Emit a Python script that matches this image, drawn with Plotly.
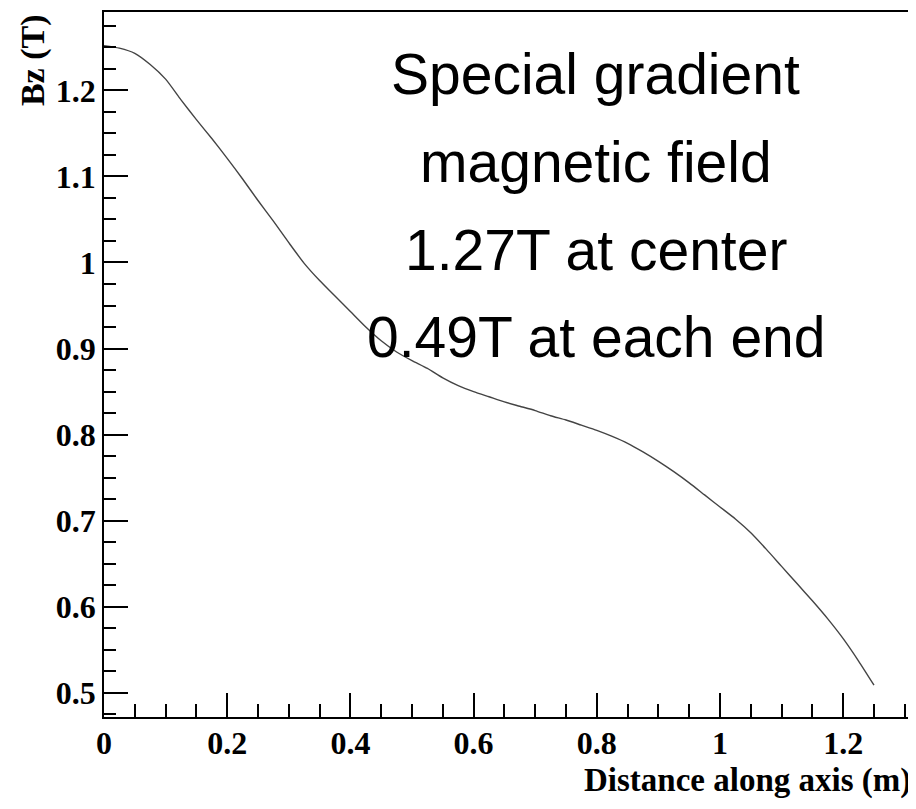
import plotly.graph_objects as go

# Data
distance_m = [0.0, 0.025, 0.05, 0.075, 0.10, 0.125, 0.15, 0.175, 0.20, 0.225, 0.25, 0.275,
              0.30, 0.325, 0.35, 0.375, 0.40, 0.425, 0.45, 0.475, 0.50, 0.525, 0.55, 0.575,
              0.60, 0.625, 0.65, 0.675, 0.70, 0.725, 0.75, 0.775, 0.80, 0.825, 0.85, 0.875,
              0.90, 0.925, 0.95, 0.975, 1.00, 1.025, 1.05, 1.075, 1.10, 1.125, 1.15, 1.175,
              1.20, 1.225, 1.25]
bz_tesla = [1.252, 1.249, 1.243, 1.230, 1.213, 1.189, 1.166, 1.144, 1.121, 1.097, 1.072, 1.048,
            1.023, 0.999, 0.979, 0.961, 0.943, 0.925, 0.909, 0.896, 0.886, 0.877, 0.866, 0.857,
            0.850, 0.844, 0.838, 0.833, 0.828, 0.822, 0.817, 0.811, 0.805, 0.798, 0.790, 0.780,
            0.769, 0.757, 0.744, 0.730, 0.716, 0.702, 0.686, 0.667, 0.647, 0.627, 0.607, 0.586,
            0.563, 0.537, 0.509]
x_tick_vals = [0, 0.2, 0.4, 0.6, 0.8, 1.0, 1.2]
x_tick_text = ["0", "0.2", "0.4", "0.6", "0.8", "1", "1.2"]
y_tick_vals = [0.5, 0.6, 0.7, 0.8, 0.9, 1.0, 1.1, 1.2]
y_tick_text = ["0.5", "0.6", "0.7", "0.8", "0.9", "1", "1.1", "1.2"]
note_lines = ["Special gradient", "magnetic field", "1.27T at center", "0.49T at each end"]

# page has an 8px body margin; figure sits at (8, 8)
OFF = 8
W, H = 908, 793
PL, PR, PT, PB = 104, 914, 11, 717          # plot area in page pixels
ML, MR, MT, MB = PL - OFF, (OFF + W) - PR, PT - OFF, (OFF + H) - PB

def px_x(px):
    return (px - PL) / (PR - PL)

def px_y(py):
    return (PB - py) / (PB - PT)

fig = go.Figure()
fig.add_trace(go.Scatter(x=distance_m, y=bz_tesla, mode="lines",
                         line=dict(color="#444444", width=1.4, shape="spline", smoothing=0.6),
                         hoverinfo="skip", showlegend=False))

serif_bold = "Liberation Serif"
axis_common = dict(showline=True, linecolor="black", linewidth=1.5, mirror=True,
                   ticks="inside", tickcolor="black", tickwidth=1.5, ticklen=24,
                   showgrid=False, zeroline=False,
                   tickfont=dict(family=serif_bold, size=32, color="black", weight="bold"))

fig.update_xaxes(range=[0, 1.3117], tickvals=x_tick_vals, ticktext=x_tick_text,
                 ticklabelstandoff=-3,
                 minor=dict(dtick=0.05, tick0=0, ticks="inside", ticklen=13,
                            tickcolor="black", tickwidth=1.5, showgrid=False),
                 **axis_common)
fig.update_yaxes(range=[0.472, 1.291], tickvals=y_tick_vals, ticktext=y_tick_text,
                 minor=dict(dtick=0.025, tick0=0, ticks="inside", ticklen=12,
                            tickcolor="black", tickwidth=1.5, showgrid=False),
                 **axis_common)

annotations = []
mid_px = [73, 161, 249, 336]
for line, my in zip(note_lines, mid_px):
    annotations.append(dict(text=line, xref="paper", yref="paper",
                            x=px_x(597), y=px_y(my), xanchor="center", yanchor="middle",
                            showarrow=False,
                            font=dict(family="Liberation Sans", size=57, color="black")))
annotations.append(dict(text="<b>Bz (T)</b>", xref="paper", yref="paper",
                        x=px_x(33), y=px_y(59), xanchor="center", yanchor="middle",
                        textangle=-90, showarrow=False,
                        font=dict(family=serif_bold, size=34, color="black")))
annotations.append(dict(text="<b>Distance along axis (m)</b>", xref="paper", yref="paper",
                        x=1.0, y=px_y(800), xanchor="right", yanchor="bottom",
                        showarrow=False, borderpad=0,
                        font=dict(family=serif_bold, size=33, color="black")))

fig.update_layout(width=W, height=H, margin=dict(l=ML, r=MR, t=MT, b=MB),
                  paper_bgcolor="white", plot_bgcolor="white",
                  annotations=annotations)

fig.write_html("out.html")
